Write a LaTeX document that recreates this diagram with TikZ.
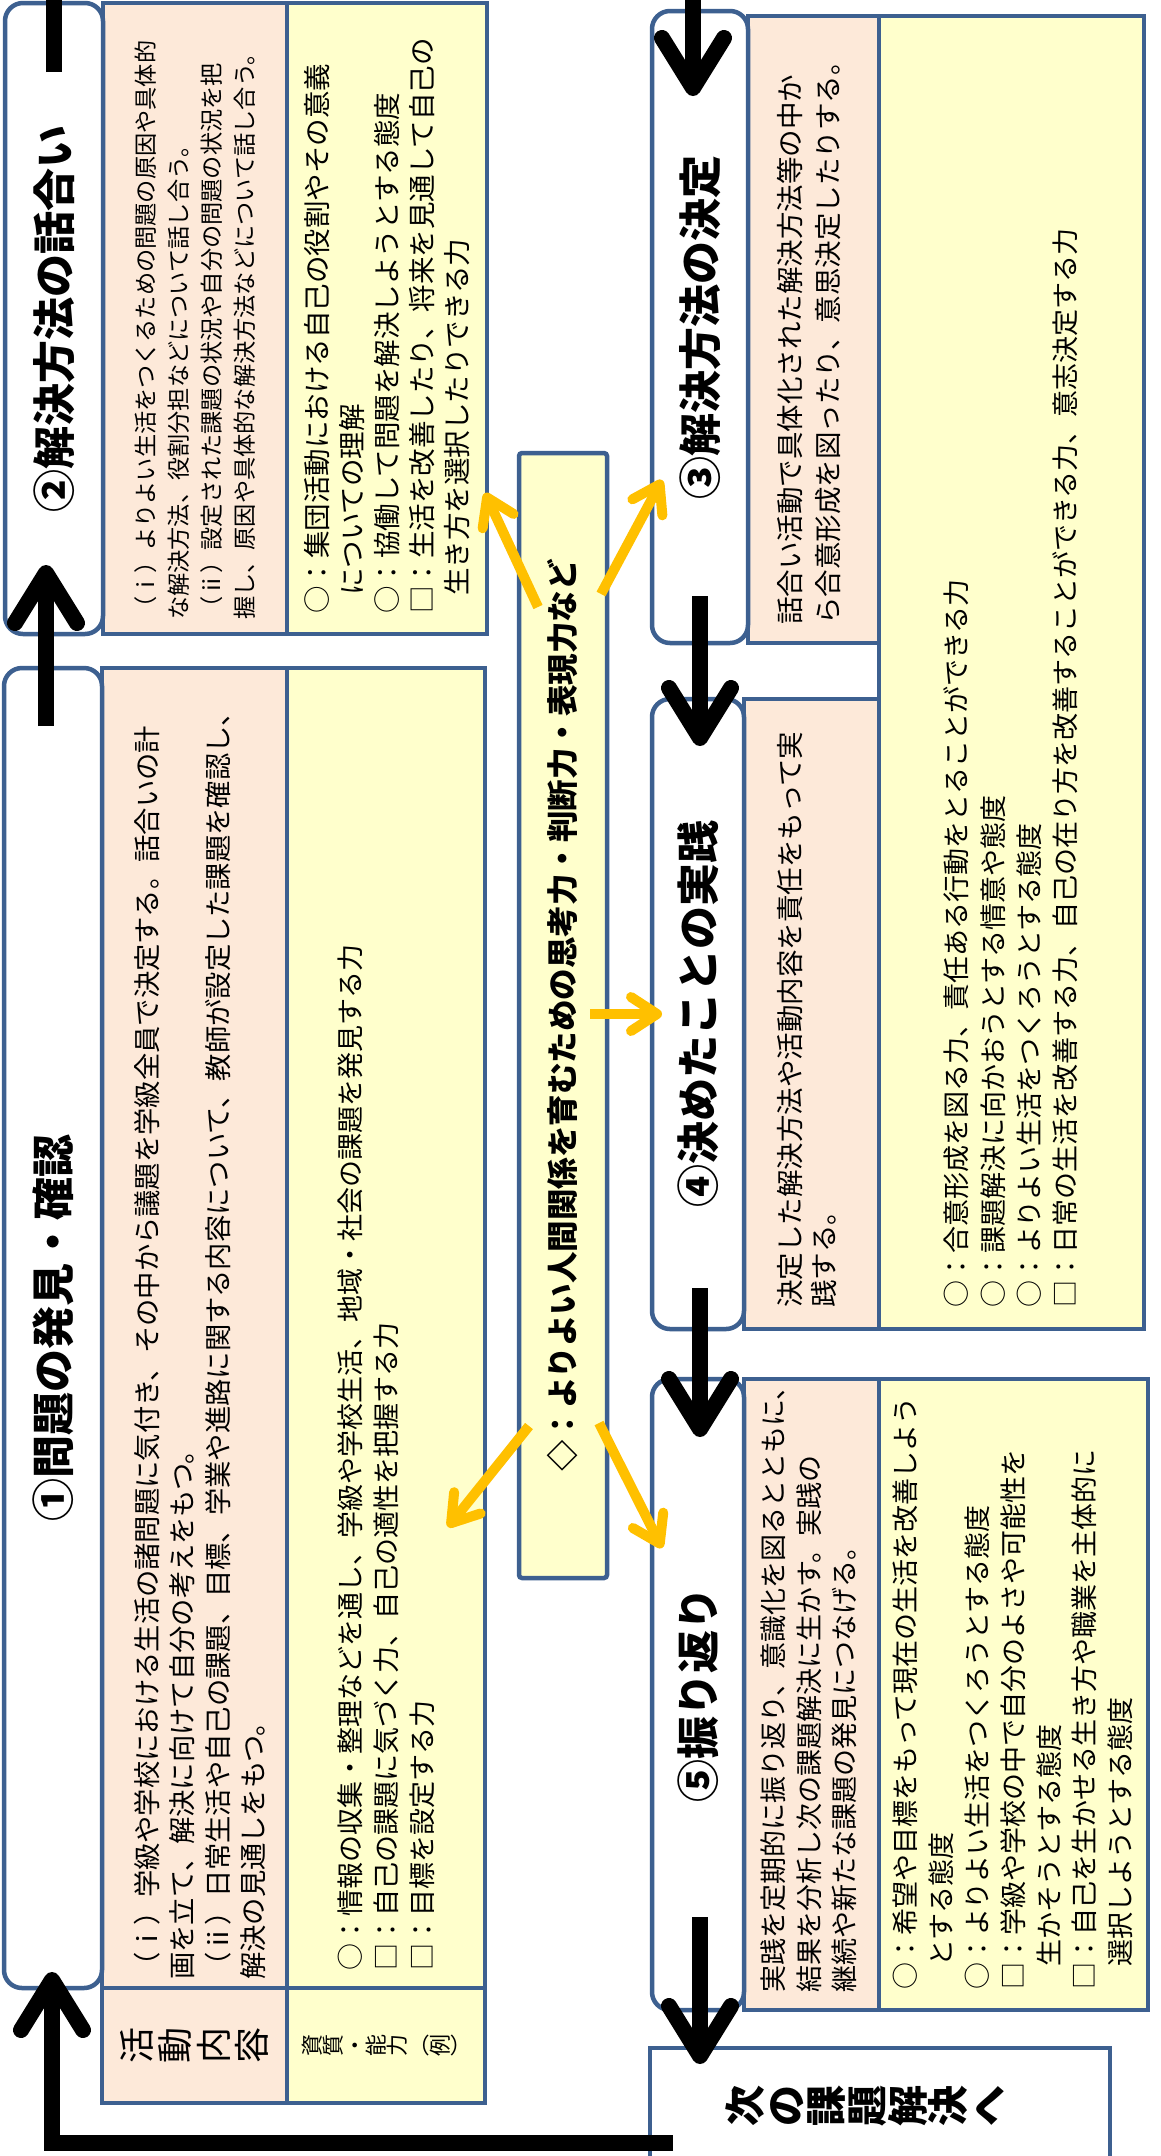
\documentclass[tikz,border=0pt]{standalone}
\usepackage{fontspec}
\setmainfont{Noto Sans CJK JP}
\usetikzlibrary{arrows.meta}
\definecolor{bordc}{HTML}{3D6090}
\definecolor{peach}{HTML}{FDE9D9}
\definecolor{yel}{HTML}{FFFFCC}
\definecolor{arrowy}{HTML}{FFC000}
\newcommand\tightls{\lineskiplimit=-100pt\relax}
% style, name, x1, y1, x2, y2 (pixels, y downwards)
\newcommand\bx[6]{\node[#1, minimum width={#5-#3}, minimum height={#6-#4}] (#2) at ({(#3+#5)/2},{(#4+#6)/2}) {};}
\begin{document}
\begin{tikzpicture}[x=1pt,y=-1pt,
  bord/.style={draw=bordc, line width=4.5pt, inner sep=0pt, outer sep=0pt},
  titlebox/.style={bord, fill=white, rounded corners=18pt},
  peachbox/.style={bord, fill=peach},
  yelbox/.style={bord, fill=yel},
  centbox/.style={bord, fill=yel, rounded corners=3pt},
  nextbox/.style={bord, fill=white},
  ttl/.style={rotate=90, inner sep=0pt, font=\bfseries\fontsize{43}{50}\selectfont},
  body/.style={rotate=90, anchor=west, align=left, inner sep=0pt, font=\fontsize{27}{35.5}\selectfont},
  stack/.style={rotate=90, align=center, inner sep=0pt},
  blk/.style={line width=16pt, -{Straight Barb[length=50pt,width=62pt,round]}},
  stub/.style={line width=16pt},
  yarr/.style={draw=arrowy, line width=10pt, -{Straight Barb[length=26pt,width=34pt,round]}}
]
\useasboundingbox (0,0) rectangle (1160,2156);
\clip (0,0) rectangle (1160,2156);
\fill[white] (0,0) rectangle (1160,2156);

% ---- left column: step 2 ----
\bx{peachbox}{p2}{103}{3}{287}{634}
\bx{yelbox}{y2}{287}{3}{487}{634}
\bx{titlebox}{t2}{5}{3}{103}{634}
% ---- left column: step 1 ----
\bx{peachbox}{p1}{102}{668}{287}{1988}
\bx{yelbox}{y1}{287}{668}{485}{1988}
\bx{peachbox}{l1}{102}{1988}{287}{2103}
\bx{yelbox}{l2}{287}{1988}{485}{2103}
\bx{titlebox}{t1}{4}{668}{102}{1988}
% ---- centre ----
\bx{centbox}{c}{519}{453}{607}{1578}
% ---- right column ----
\bx{yelbox}{y34}{879}{16}{1144}{1329}
\bx{peachbox}{p3}{748}{16}{879}{643}
\bx{titlebox}{t3}{652}{11}{748}{643}
\bx{peachbox}{p4}{744}{699}{879}{1329}
\bx{titlebox}{t4}{652}{699}{744}{1329}
\bx{peachbox}{p5}{744}{1379}{879}{2010}
\bx{yelbox}{y5}{879}{1379}{1148}{2010}
\bx{titlebox}{t5}{652}{1379}{744}{2010}
\bx{nextbox}{nx}{650}{2048}{1110}{2200}

% ---- titles ----
\node[ttl] (t2txt) at (t2) {②解決方法の話合い};
\node[ttl] (t1txt) at (t1) {①問題の発見・確認};
\node[ttl] (t3txt) at (t3) {③解決方法の決定};
\node[ttl] (t4txt) at (t4) {④決めたことの実践};
\node[ttl] (t5txt) at (t5) {⑤振り返り};

% ---- body texts ----
\node[body, font=\fontsize{23.2}{33}\selectfont] (p2txt) at (195,620)
 {（ⅰ）よりよい生活をつくるための問題の原因や具体的\\な解決方法、役割分担などについて話し合う。\\（ⅱ）設定された課題の状況や自分の問題の状況を把\\握し、原因や具体的な解決方法などについて話し合う。};
\node[body, font=\fontsize{27.5}{35.2}\selectfont] (y2txt) at (387,614)
 {○：集団活動における自己の役割やその意義\\\hspace*{0.65em}についての理解\\○：協働して問題を解決しようとする態度\\□：生活を改善したり、将来を見通して自己の\\\hspace*{0.65em}生き方を選択したりできる力};
\node[body, font=\fontsize{27.3}{35.3}\selectfont] (p1txt) at (200,1980)
 {（ⅰ）学級や学校における生活の諸問題に気付き、その中から議題を学級全員で決定する。話合いの計\\画を立て、解決に向けて自分の考えをもつ。\\（ⅱ）日常生活や自己の課題、目標、学業や進路に関する内容について、教師が設定した課題を確認し、\\解決の見通しをもつ。};
\node[body, font=\fontsize{27}{36}\selectfont] (y1txt) at (386,1971)
 {○：情報の収集・整理などを通し、学級や学校生活、地域・社会の課題を発見する力\\□：自己の課題に気づく力、自己の適性を把握する力\\□：目標を設定する力};
\node[body, font=\fontsize{27.5}{38}\selectfont] (p3txt) at (809,625)
 {話合い活動で具体化された解決方法等の中か\\ら合意形成を図ったり、意思決定したりする。};
\node[body, font=\fontsize{27.5}{34}\selectfont] (p4txt) at (807,1308)
 {決定した解決方法や活動内容を責任をもって実\\践する。};
\node[body, font=\fontsize{27}{36.3}\selectfont] (y34txt) at (1011,1308)
 {○：合意形成を図る力、責任ある行動をとることができる力\\○：課題解決に向かおうとする情意や態度\\○：よりよい生活をつくろうとする態度\\□：日常の生活を改善する力、自己の在り方を改善することができる力、意志決定する力};
\node[body] (p5txt) at (809,1993)
 {実践を定期的に振り返り、意識化を図るとともに、\\結果を分析し次の課題解決に生かす。実践の\\継続や新たな課題の発見につなげる。};
\node[body, font=\fontsize{27}{35.8}\selectfont] (y5txt) at (1013,1990)
 {○：希望や目標をもって現在の生活を改善しよう\\\hspace*{0.85em}とする態度\\○：よりよい生活をつくろうとする態度\\□：学級や学校の中で自分のよさや可能性を\\\hspace*{0.85em}生かそうとする態度\\□：自己を生かせる生き方や職業を主体的に\\\hspace*{0.85em}選択しようとする態度};
\node[rotate=90, inner sep=0pt, font=\bfseries\fontsize{31.5}{36}\selectfont] (ctxt) at (c)
 {◇：よりよい人間関係を育むための思考力・判断力・表現力など};

% ---- labels ----
\node[stack, font=\fontsize{36}{38.5}\selectfont\tightls] (l1txt) at (l1) {活\\動\\内\\容};
\node[stack, font=\fontsize{22}{21.3}\selectfont\tightls] (l2txt) at (l2) {資\\質\\・\\能\\力\\︵\\例\\︶};
\node[stack, font=\bfseries\fontsize{41}{40.6}\selectfont\tightls] (nxtxt) at (865,2106) {次\\の\\課\\題\\解\\決\\へ};

% ---- black connectors ----
\coordinate (n1s) at (673,2143);
\coordinate (n1c) at (52,2143);
\coordinate (n1t) at (52,1972);
\coordinate (a12s) at (46,726);
\coordinate (a12t) at (46,565);
\coordinate (a2s) at (54,72);
\coordinate (a2e) at (54,-20);
\coordinate (a3s) at (693,-20);
\coordinate (a3t) at (693,96);
\coordinate (a34s) at (700,596);
\coordinate (a34t) at (700,746);
\coordinate (a45s) at (700,1288);
\coordinate (a45t) at (700,1437);
\coordinate (a5ns) at (700,1917);
\coordinate (a5nt) at (700,2064);
\draw[blk] (n1s) -- (n1c) -- (n1t);
\draw[blk] (a12s) -- (a12t);
\draw[stub] (a2s) -- (a2e);
\draw[blk] (a3s) -- (a3t);
\draw[blk] (a34s) -- (a34t);
\draw[blk] (a45s) -- (a45t);
\draw[blk] (a5ns) -- (a5nt);

% ---- yellow arrows from the centre box ----
\coordinate (ys1) at (538,607);  \coordinate (yt1) at (485,493);
\coordinate (ys2) at (601,594);  \coordinate (yt2) at (662,480);
\coordinate (ys3) at (590,1014); \coordinate (yt3) at (662,1014);
\coordinate (ys4) at (529,1426); \coordinate (yt4) at (448,1527);
\coordinate (ys5) at (599,1423); \coordinate (yt5) at (662,1548);
\draw[yarr] (ys1) -- (yt1);
\draw[yarr] (ys2) -- (yt2);
\draw[yarr] (ys3) -- (yt3);
\draw[yarr] (ys4) -- (yt4);
\draw[yarr] (ys5) -- (yt5);
\end{tikzpicture}
\end{document}
